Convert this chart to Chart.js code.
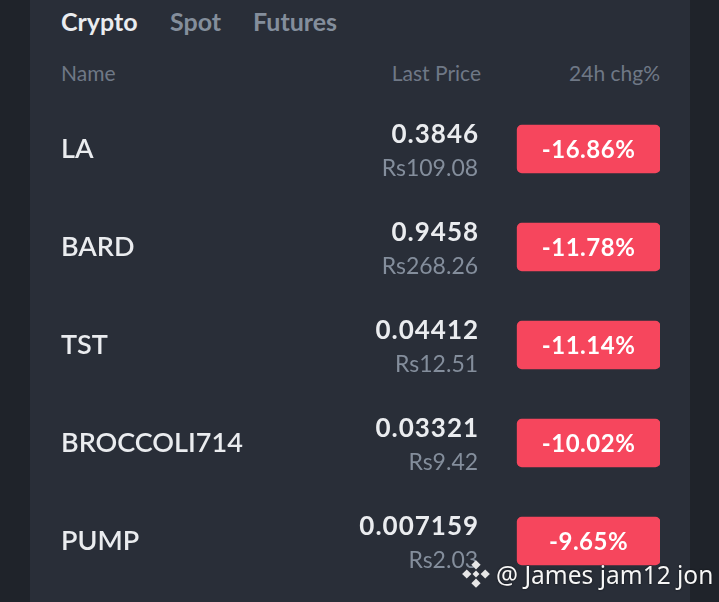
<!DOCTYPE html>
<html>
<head>
  <title>Top losers</title>
  <script src="https://cdn.jsdelivr.net/npm/chart.js"></script>
  <style>
    html, body { margin: 0; padding: 0; }
    body { width: 719px; height: 602px; background: #1f232a; position: relative; overflow: hidden; font-family: Lato, "Noto Sans", sans-serif; }
    #panel { position: absolute; left: 30px; top: 0; width: 660px; height: 602px; background: #292e38; }
    .tab { position: absolute; top: 6px; font-size: 25px; font-weight: 700; color: #848e9c; }
    .tab.active { color: #eaecef; }
    .head { position: absolute; top: 60px; font-size: 21px; color: #6f7886; }
    #chartWrap { position: absolute; left: 0; top: 100px; width: 719px; height: 490px; }
    #mark { position: absolute; left: 461px; top: 558px; font-family: "Noto Sans", sans-serif; font-size: 24.5px; color: #f6f6f6; text-shadow: 0 0 2px rgba(0,0,0,0.7); white-space: nowrap; }
    #mark svg { vertical-align: -5px; margin-right: 5px; }
  </style>
</head>
<body>
  <div id="panel"></div>
  <div class="tab active" style="left:61px">Crypto</div>
  <div class="tab" style="left:170px">Spot</div>
  <div class="tab" style="left:253px">Futures</div>

  <div class="head" style="left:61px">Name</div>
  <div class="head" style="right:238px">Last Price</div>
  <div class="head" style="right:59px">24h chg%</div>

  <div id="chartWrap"><canvas id="chartCanvas" width="719" height="490"></canvas></div>

  <div id="mark"><svg width="30" height="30" viewBox="0 0 26 26"><g fill="#e6e6e6"><path d="M13 1l4 4-4 4-4-4z"/><path d="M13 17l4 4-4 4-4-4z"/><path d="M5 9l4 4-4 4-4-4z"/><path d="M21 9l4 4-4 4-4-4z"/><path d="M13 10l3 3-3 3-3-3z"/></g></svg>@ James jam12 jon</div>

<script>
  // table rows
  const names = ["LA", "BARD", "TST", "BROCCOLI714", "PUMP"];
  const lastPrice = ["0.3846", "0.9458", "0.04412", "0.03321", "0.007159"];
  const priceRs = ["109.08", "268.26", "12.51", "9.42", "2.03"];
  const changePct = [-16.86, -11.78, -11.14, -10.02, -9.65];

  // column layout, in % of the area right of the name column
  const NAME_COL = 200;
  const PRICE_RIGHT = 54.4;
  const BADGE_FROM = 64.2;
  const BADGE_TO = 100;

  const textPlugin = {
    id: "rowText",
    afterDatasetsDraw(chart) {
      const ctx = chart.ctx;
      const xs = chart.scales.x;
      const meta = chart.getDatasetMeta(0);
      ctx.save();
      meta.data.forEach((bar, i) => {
        // price column
        const px = xs.getPixelForValue(PRICE_RIGHT);
        ctx.textAlign = "right";
        ctx.textBaseline = "alphabetic";
        ctx.fillStyle = "#eaecef";
        ctx.font = "700 26px Lato";
        ctx.letterSpacing = "1px";
        ctx.fillText(lastPrice[i], px + 1, bar.y - 6);
        ctx.fillStyle = "#848e9c";
        ctx.font = "400 23px Lato";
        ctx.letterSpacing = "0px";
        ctx.fillText("Rs" + priceRs[i], px, bar.y + 27);

        // change badge label
        ctx.textAlign = "center";
        ctx.textBaseline = "middle";
        ctx.fillStyle = "#ffffff";
        ctx.font = "700 24px Lato";
        ctx.letterSpacing = "0.5px";
        ctx.fillText(changePct[i].toFixed(2) + "%", (bar.x + bar.base) / 2, bar.y + 1);
      });
      ctx.restore();
    }
  };

  new Chart(document.getElementById("chartCanvas"), {
    type: "bar",
    data: {
      labels: names,
      datasets: [{
        data: changePct.map(() => [BADGE_FROM, BADGE_TO]),
        backgroundColor: "#f6465d",
        borderRadius: 5,
        borderSkipped: false,
        barThickness: 48
      }]
    },
    options: {
      indexAxis: "y",
      responsive: false,
      animation: false,
      layout: { padding: { left: 61, right: 59, top: 0, bottom: 0 } },
      scales: {
        x: { display: false, min: 0, max: 100 },
        y: {
          grid: { display: false },
          border: { display: false },
          afterFit: (s) => { s.width = NAME_COL; s.paddingTop = 0; s.paddingBottom = 0; },
          ticks: {
            crossAlign: "far",
            padding: 0,
            color: "#eaecef",
            font: { family: "Lato", size: 27, weight: 600 }
          }
        }
      },
      plugins: {
        legend: { display: false },
        tooltip: { enabled: false }
      }
    },
    plugins: [textPlugin]
  });
</script>
</body>
</html>
